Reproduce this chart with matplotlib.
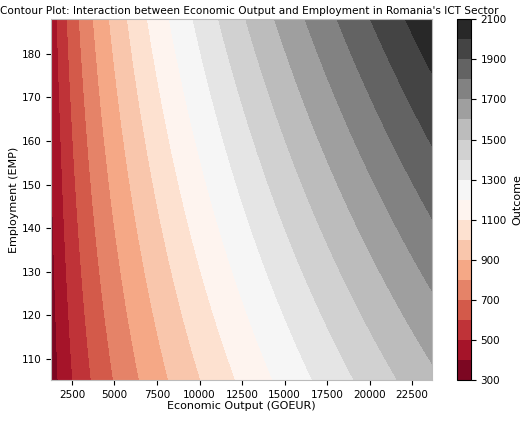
import numpy as np
import matplotlib
matplotlib.use("Agg")
import matplotlib.pyplot as plt

# Contour boundary readings from the reference: (GOEUR, EMP, outcome level)
top_x = [1635, 2224, 2970, 3755, 4735, 5814, 6990, 8265, 9637, 11108, 12775, 14441, 16304, 18265, 20225, 22382]
top_z = [500, 600, 700, 800, 900, 1000, 1100, 1200, 1300, 1400, 1500, 1600, 1700, 1800, 1900, 2000]
bot_x = [1600, 2576, 3853, 4833, 6010, 7970, 9833, 11892, 14147, 16500, 18950, 21794]
bot_z = [400, 500, 600, 700, 800, 900, 1000, 1100, 1200, 1300, 1400, 1500]
right_y = [177.1, 156.0, 139.4, 123.9, 109.1]
right_z = [2000, 1900, 1800, 1700, 1600]

x_range = [1265, 23676]
y_range = [105.0, 188.0]
levels = np.arange(300, 2101, 100)
cbar_ticks = np.arange(300, 2101, 200)

# fit a smooth surface through the read contour points
px = np.array(top_x + bot_x + [x_range[1]] * len(right_y), float)
py = np.array([187.1] * len(top_x) + [107.3] * len(bot_x) + right_y, float)
pz = np.array(top_z + bot_z + right_z, float)

def basis(x, y):
    return np.stack([np.ones_like(x), np.log(x), np.sqrt(x), x, y,
                     x * y, y * np.log(x), y * np.sqrt(x)], axis=-1)

coef, *_ = np.linalg.lstsq(basis(px, py), pz, rcond=None)

gx = np.linspace(*x_range, 300)
gy = np.linspace(*y_range, 300)
X, Y = np.meshgrid(gx, gy)
Z = np.clip(basis(X, Y) @ coef, 300, 2100)

fig = plt.figure(figsize=(5.2, 4.25), dpi=100)
ax = fig.add_axes([0.098, 0.105, 0.733, 0.85])
cax = fig.add_axes([0.879, 0.105, 0.026, 0.85])
cf = ax.contourf(X, Y, Z, levels=levels, cmap="RdGy")
cb = fig.colorbar(cf, cax=cax, ticks=cbar_ticks)
cb.set_label("Outcome", fontsize=8)
cb.ax.tick_params(labelsize=7.5)
fig.text(0.0, 0.985, "Contour Plot: Interaction between Economic Output and Employment in Romania's ICT Sector",
         fontsize=7.6, ha="left", va="top")
ax.set_xlabel("Economic Output (GOEUR)", fontsize=8, labelpad=1)
ax.set_ylabel("Employment (EMP)", fontsize=8, labelpad=2)
ax.set_xticks(np.arange(2500, 22501, 2500))
ax.set_yticks(np.arange(110, 181, 10))
ax.set_ylim(105, 188)
ax.tick_params(labelsize=7.5)
for s in ax.spines.values():
    s.set_color("#bbbbbb")
fig.savefig("out.png")
